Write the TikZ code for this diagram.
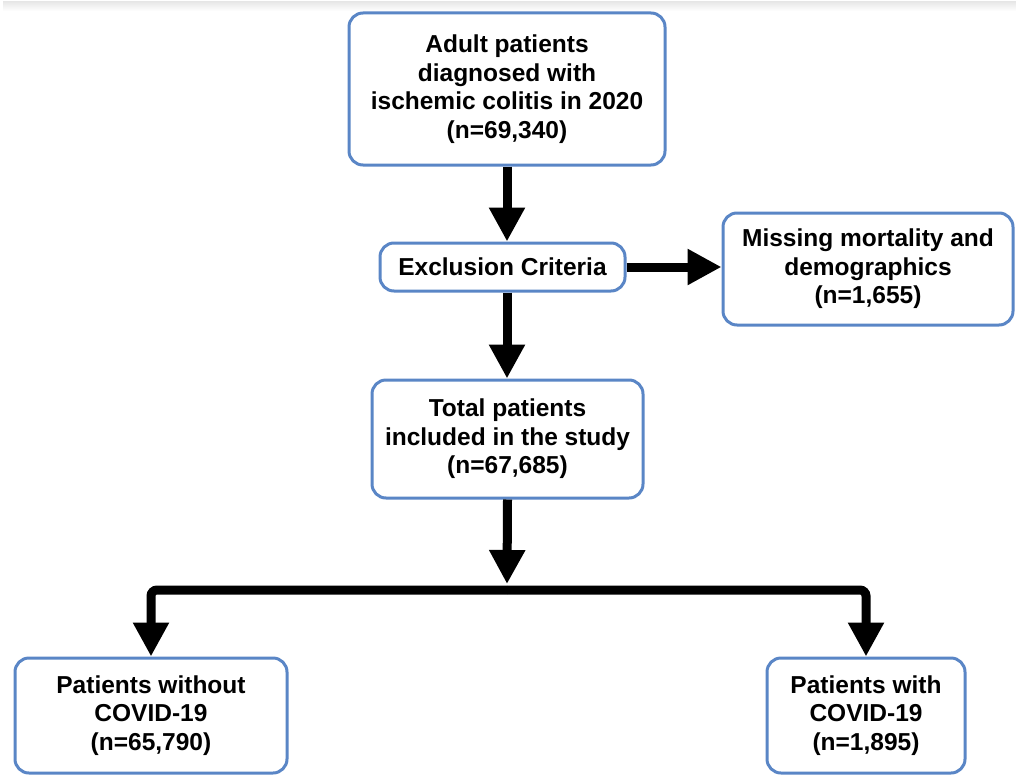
\documentclass[tikz,border=0pt]{standalone}
\usepackage{fontspec}
\setmainfont{Liberation Sans}
\usetikzlibrary{arrows.meta}
\definecolor{boxblue}{HTML}{5A86C6}
\tikzset{
  flowbox/.style={draw=boxblue, line width=3pt, rounded corners=14pt, fill=white,
    align=center, inner sep=0pt, text=black,
    font=\bfseries\fontsize{24.5}{28.5}\selectfont},
  bigarrow/.style={line width=9pt, draw=black, -{Triangle[length=34pt,width=34pt]}},
  bararrow/.style={bigarrow, rounded corners=6pt}
}
\begin{document}
\begin{tikzpicture}[x=1pt,y=-1pt]
\useasboundingbox (0,0) rectangle (1016,776);
% faint top band
\shade[top color=gray!18, bottom color=white] (3,2) rectangle (1016,11);

\node[flowbox, minimum width=316pt, minimum height=152pt] (adult) at (507,89)
  {Adult patients\\diagnosed with\\ischemic colitis in 2020\\(n=69,340)};
\node[flowbox, minimum width=245pt, minimum height=48pt] (excl) at (502.5,267)
  {Exclusion Criteria};
\node[flowbox, minimum width=290pt, minimum height=112pt] (miss) at (868,269)
  {Missing mortality and\\demographics\\(n=1,655)};
\node[flowbox, minimum width=271pt, minimum height=118pt] (total) at (507.5,439)
  {Total patients\\included in the study\\(n=67,685)};
\node[flowbox, minimum width=272pt, minimum height=115pt] (without) at (151,715.5)
  {Patients without\\COVID-19\\(n=65,790)};
\node[flowbox, minimum width=198pt, minimum height=115pt] (with) at (866,715.5)
  {Patients with\\COVID-19\\(n=1,895)};

\coordinate (split) at (507,590);
\coordinate (splittop) at (507,584);

\draw[bigarrow] (adult.south) -- (adult.south |- excl.north);
\draw[bigarrow] (excl.east) -- (excl.east -| miss.west);
\draw[bigarrow] (excl.south -| adult.south) -- (adult.south |- total.north);
\draw[bigarrow] (total.south) -- (splittop);
\draw[bararrow] (split) -| (without.north);
\draw[bararrow] (split) -| (with.north);
\end{tikzpicture}
\end{document}
